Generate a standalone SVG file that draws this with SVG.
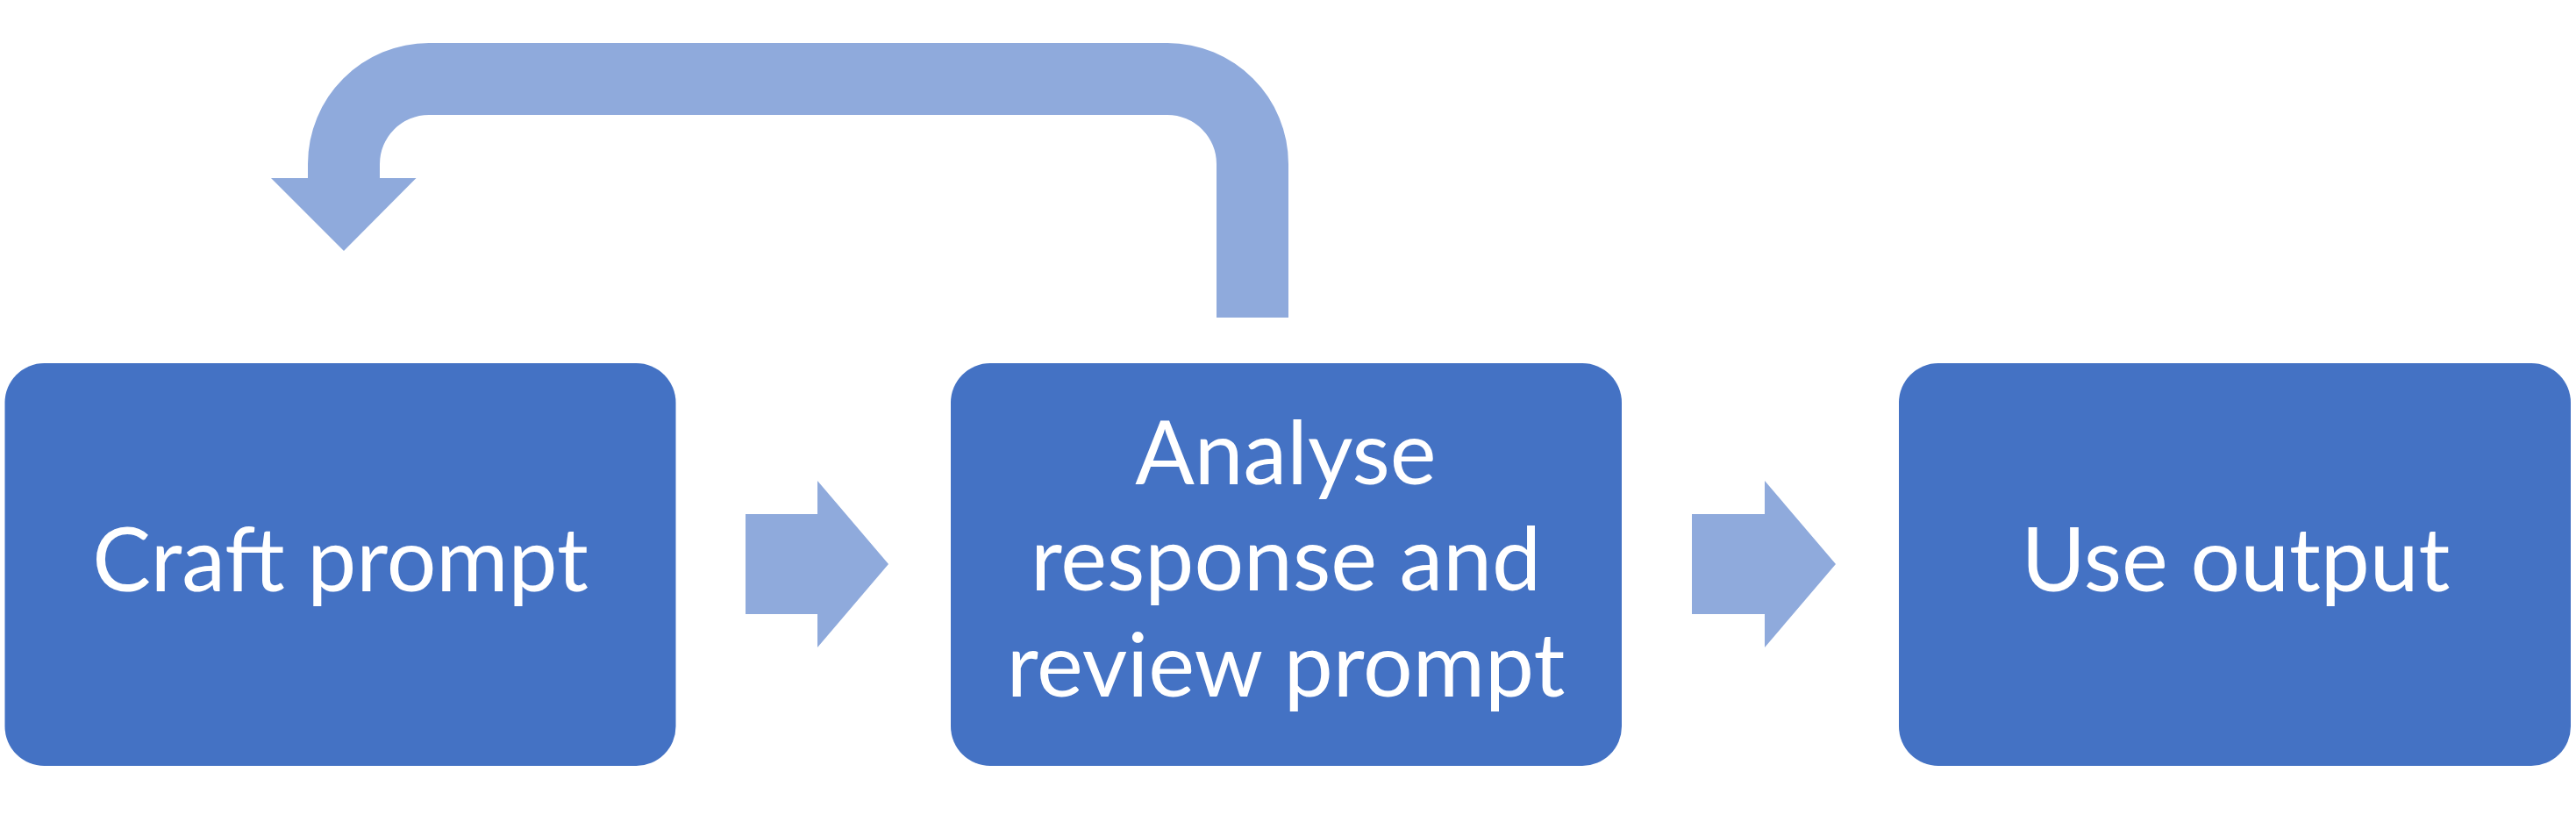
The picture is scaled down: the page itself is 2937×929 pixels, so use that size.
<svg xmlns="http://www.w3.org/2000/svg" width="2937" height="929" viewBox="0 0 2937 929">
<style>
.box{fill:#4472C4;}
.arrow{fill:#8FAADC;}
.lbl{font-family:Lato,"Open Sans","Liberation Sans",sans-serif;font-size:100px;fill:#FFFFFF;text-anchor:middle;}
</style>
<rect width="2937" height="929" fill="#FFFFFF"/>
<g id="connectors">
<path id="loop" class="arrow" d="M1387,362 L1387,187 A56,56 0 0 0 1331,131 L489,131 A56,56 0 0 0 433,187 L433,203 L474.5,203 L392,286 L309,203 L351,203 L351,187 A138,138 0 0 1 489,49 L1331,49 A138,138 0 0 1 1469,187 L1469,362 Z"/>
<path id="arrow1" class="arrow" d="M850,586 L932,586 L932,548 L1013,643 L932,738 L932,700 L850,700 Z"/>
<path id="arrow2" class="arrow" d="M1929,586 L2012,586 L2012,548 L2093,643 L2012,738 L2012,700 L1929,700 Z"/>
</g>
<g id="node-craft">
<rect class="box" x="5.5" y="414" width="765" height="459" rx="45" ry="45"/>
<text class="lbl" x="388" y="674">Craft prompt</text>
</g>
<g id="node-analyse">
<rect class="box" x="1084" y="414" width="765" height="459" rx="45" ry="45"/>
<text class="lbl" x="1466" y="552">Analyse</text>
<text class="lbl" x="1466" y="673">response and</text>
<text class="lbl" x="1466" y="794">review prompt</text>
</g>
<g id="node-use">
<rect class="box" x="2165" y="414" width="766" height="459" rx="45" ry="45"/>
<text class="lbl" x="2549" y="674">Use output</text>
</g>
</svg>
